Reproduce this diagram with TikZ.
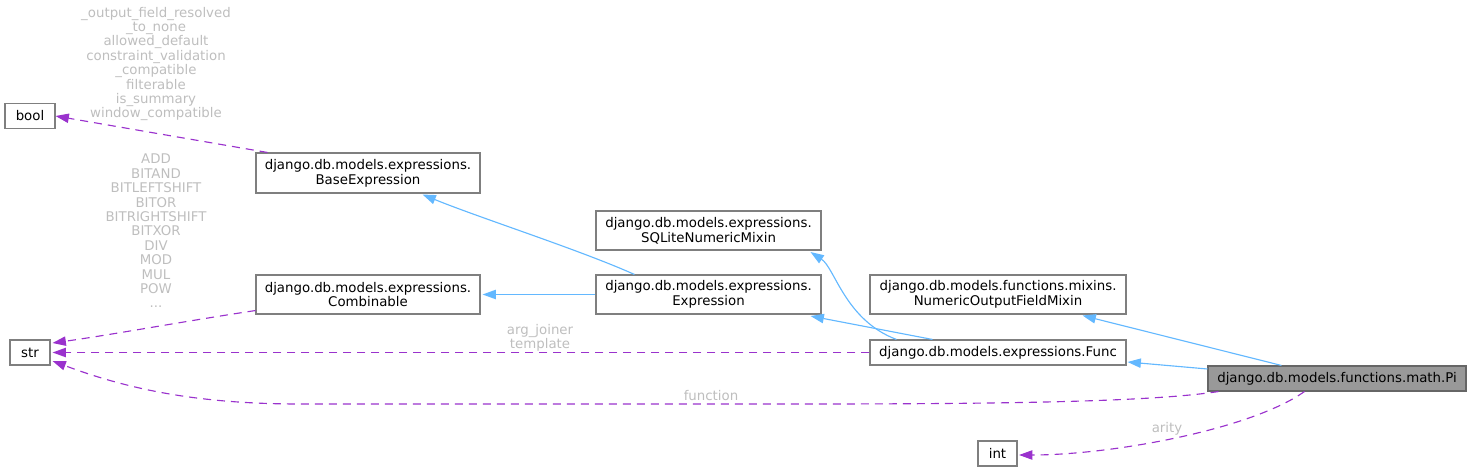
\documentclass[tikz,border=0pt]{standalone}
\usepackage{fontspec}
\setmainfont{DejaVu Sans}
\usetikzlibrary{arrows.meta,calc}
\definecolor{edgeblue}{HTML}{63B8FF}
\definecolor{edgepurple}{HTML}{9A32CD}
\definecolor{lblgray}{HTML}{BEBEBE}
\definecolor{boxgray}{HTML}{7F7F7F}
\definecolor{pifill}{HTML}{999999}
\begin{document}
\begin{tikzpicture}[x=0.75pt,y=-0.75pt,
 cls/.style 2 args={draw=boxgray, fill=white, line width=0.8pt, inner sep=0pt, align=center,
   minimum width=#1*0.75pt, minimum height=#2*0.75pt, font=\fontsize{10}{11}\selectfont},
 inh/.style={draw=edgeblue, line width=0.85pt, -{Triangle[length=10pt,width=7pt]}},
 usedge/.style={draw=edgepurple, line width=0.85pt, dash pattern=on 6pt off 4.5pt, -{Triangle[length=10pt,width=7pt]}},
 lbl/.style={text=lblgray, align=center, inner sep=0pt, font=\fontsize{10}{10.8}\selectfont}]
\useasboundingbox (0,0) rectangle (1469,473);

% nodes
\node[cls={50}{25}] (bool) at (30,116) {bool};
\node[cls={224}{40}] (base) at (368,173) {django.db.models.expressions.\\BaseExpression};
\node[cls={225}{39}] (sqlite) at (708.5,230.5) {django.db.models.expressions.\\SQLiteNumericMixin};
\node[cls={224}{39}] (comb) at (368,294.5) {django.db.models.expressions.\\Combinable};
\node[cls={225}{39}] (expr) at (708.5,294.5) {django.db.models.expressions.\\Expression};
\node[cls={256}{39}] (numout) at (998,294.5) {django.db.models.functions.mixins.\\NumericOutputFieldMixin};
\node[cls={40}{25}] (str) at (30,352.5) {str};
\node[cls={256}{25}] (func) at (998,352.5) {django.db.models.expressions.Func};
\node[cls={258}{25}, draw=black!60, fill=pifill] (pi) at (1337,378.5) {django.db.models.functions.math.Pi};
\node[cls={39}{25}] (int) at (997.5,453.5) {int};

% labels
\node[lbl] (l1) at (156,64) {\_output\_field\_resolved\\\_to\_none\\allowed\_default\\constraint\_validation\\\_compatible\\filterable\\is\_summary\\window\_compatible};
\node[lbl] (l2) at (156,231) {ADD\\BITAND\\BITLEFTSHIFT\\BITOR\\BITRIGHTSHIFT\\BITXOR\\DIV\\MOD\\MUL\\POW\\...};
\node[lbl] (l3) at (540,338) {arg\_joiner\\template};
\node[lbl] (l4) at (711,396) {function};
\node[lbl] (l5) at (1167,429) {arity};

% usage edges
\draw[usedge] ($(base.north west)+(12,0)$) -- (bool.east);
\draw[usedge] ($(comb.south west)+(0,-4)$) .. controls (180,322) and (110,335) .. ($(str.east)+(2,-9.5)$);
\draw[usedge] (func.west) -- ($(str.east)+(2,0)$);
\draw[usedge] ($(pi.south west)+(11,0)$) .. controls (1150,402) and (1000,404) .. (800,404)
   -- (300,404) .. controls (200,404) and (130,390) .. ($(str.east)+(2,8.5)$);
\draw[usedge] ($(pi.south west)+(97,0)$) .. controls (1250,430) and (1110,455) .. ($(int.east)+(1.5,1.5)$);

% inheritance edges
\draw[inh] ($(expr.north west)+(39,0)$) .. controls (580,250) and (480,218) .. ($(base.south east)+(-58,1)$);
\draw[inh] (expr.west) -- ($(comb.east)+(2,0)$);
\draw[inh] ($(func.north west)+(63,0)$) -- ($(expr.south east)+(-11,1.5)$);
\draw[inh] ($(func.north west)+(27,0)$) .. controls (845,320) and (835,268) .. ($(sqlite.south east)+(-11,1.5)$);
\draw[inh] ($(pi.west)+(0,-9.5)$) -- ($(func.east)+(1,9.5)$);
\draw[inh] ($(pi.north west)+(74,0)$) -- ($(numout.south east)+(-44,1)$);
\end{tikzpicture}
\end{document}
